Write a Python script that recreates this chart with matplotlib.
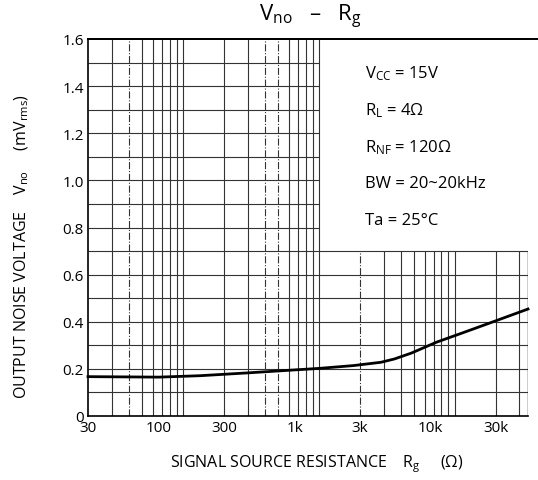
import matplotlib
matplotlib.use("Agg")
import matplotlib.pyplot as plt

plt.rcParams["font.family"] = ["Open Sans", "DejaVu Sans"]
plt.rcParams["mathtext.fontset"] = "custom"
plt.rcParams["mathtext.rm"] = "Open Sans"
plt.rcParams["mathtext.it"] = "Open Sans"

# curve
rg = [30, 100, 200, 450, 900, 1500, 2700, 4300, 5400, 7200, 11000, 17000, 27000, 52000]
vno = [0.167, 0.165, 0.171, 0.183, 0.194, 0.202, 0.214, 0.228, 0.242, 0.267,
       0.313, 0.352, 0.394, 0.454]

x_ticks = [30, 100, 300, 1000, 3000, 10000, 30000]
x_labels = ["30", "100", "300", "1k", "3k", "10k", "30k"]
y_ticks = [0, 0.2, 0.4, 0.6, 0.8, 1.0, 1.2, 1.4, 1.6]
y_labels = ["0", "0.2", "0.4", "0.6", "0.8", "1.0", "1.2", "1.4", "1.6"]

conditions = [r"$\mathregular{V_{CC}}$ = 15V",
              r"$\mathregular{R_{L}}$ = 4$\Omega$",
              r"$\mathregular{R_{NF}}$ = 120$\Omega$",
              "BW = 20~20kHz",
              "Ta = 25°C"]

# the printed log grid sits a bit off the tick labels
grid_left = [45, 60, 75, 90, 105, 120, 135, 150, 300, 450, 600, 750, 900, 1050, 1200, 1350, 1500]
grid_right = [3000, 4500, 6000, 7500, 9000, 10500, 12000, 13500, 15000, 30000, 45000]
dashed = [60, 600, 750, 3000]

xmax = 52000

fig = plt.figure(figsize=(5.38, 4.81), dpi=100)
ax = fig.add_axes([88 / 538, 64 / 481, 440 / 538, 377 / 481])
ax.set_xscale("log")
ax.set_xlim(30, xmax)
ax.set_ylim(0, 1.6)

for g in grid_left:
    ls = "-." if g in dashed else "-"
    ax.vlines(g, 0, 1.6, colors="0.2", lw=0.8, linestyles=ls)
for g in grid_right:
    ls = "-." if g in dashed else "-"
    ax.vlines(g, 0, 0.7, colors="0.2", lw=0.8, linestyles=ls)
ax.vlines(xmax, 0, 0.7, colors="black", lw=1.0)

for i in range(1, 16):
    y = i / 10
    if y <= 0.7:
        ax.hlines(y, 30, xmax, colors="0.2", lw=0.8)
    else:
        ax.hlines(y, 30, 1500, colors="0.2", lw=0.8)

ax.plot(rg, vno, color="black", lw=2.0, clip_on=False, zorder=5)

ax.spines["right"].set_visible(False)
for s in ["left", "bottom", "top"]:
    ax.spines[s].set_linewidth(1.2)
ax.plot([0, 1.023], [1, 1], transform=ax.transAxes, color="black", lw=1.4, clip_on=False)

ax.set_xticks(x_ticks)
ax.set_xticklabels(x_labels)
ax.xaxis.set_minor_locator(matplotlib.ticker.NullLocator())
ax.set_yticks(y_ticks)
ax.set_yticklabels(y_labels)
ax.tick_params(axis="both", length=0, labelsize=11, pad=3)

for i, txt in enumerate(conditions):
    fig.text(365 / 538, 1 - (74 + 36.8 * i) / 481, txt, fontsize=12, va="center", ha="left")

fig.text(310 / 538, 1 - 17 / 481, r"$\mathregular{V_{no}}$   –   $\mathregular{R_g}$",
         fontsize=16, ha="center", va="center")
fig.text(317 / 538, 1 - 464 / 481,
         r"SIGNAL SOURCE RESISTANCE    $\mathregular{R_g}$     ($\Omega$)",
         fontsize=11.5, ha="center", va="center")
fig.text(22 / 538, 1 - 247 / 481,
         r"OUTPUT NOISE VOLTAGE    $\mathregular{V_{no}}$     ($\mathregular{mV_{rms}}$)",
         fontsize=11.5, ha="center", va="center", rotation=90)

fig.savefig("out.png", dpi=100)
